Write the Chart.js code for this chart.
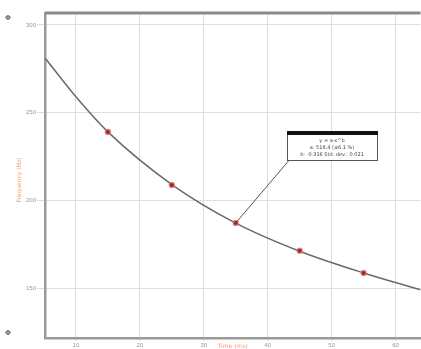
<!DOCTYPE html>
<html>
<head>
<meta charset="utf-8">
<script src="https://cdn.jsdelivr.net/npm/chart.js@4/dist/chart.umd.min.js"></script>
<style>
  html, body { margin: 0; padding: 0; background: #fff; overflow: hidden; }
  #wrap { width: 421px; height: 349px; overflow: hidden; }
</style>
</head>
<body>
<div id="wrap"><canvas id="fitChart" width="426" height="349"></canvas></div>
<script>
// measured points
const sampleX = [15, 25, 35, 45, 55];
const sampleY = [239, 208.8, 187.1, 171.2, 158.6];

// fitted curve
const curveX = [5.2, 10, 15, 25, 35, 45, 55, 63.9];
const curveY = [281, 259, 239, 209, 187, 171, 158.6, 149];

const xTicks = [10, 20, 30, 40, 50, 60];
const yTicks = [150, 200, 250, 300];

const fitLines = ["y = a·x^b", "a: 518.4 (±6.1 %)", "b: -0.316 Std. dev.: 0.021"];

const toXY = (xs, ys) => xs.map((x, i) => ({ x: x, y: ys[i] }));

// frame, axis titles and fit box
const extras = {
  id: "extras",
  afterDraw(chart) {
    const { ctx, chartArea: a, scales } = chart;
    ctx.save();
    // top border
    ctx.strokeStyle = "#8a8a8a";
    ctx.lineWidth = 3;
    ctx.beginPath();
    ctx.moveTo(a.left, a.top);
    ctx.lineTo(a.right, a.top);
    ctx.stroke();

    // corner marks
    ctx.fillStyle = "#777";
    ctx.font = "bold 7px DejaVu Sans";
    ctx.textAlign = "center";
    ctx.textBaseline = "middle";
    ctx.fillText("Φ", 8, 18);
    ctx.fillText("Φ", 8, 333);

    // axis titles
    ctx.fillStyle = "#f0a070";
    ctx.font = "6px DejaVu Sans";
    ctx.fillText("Time (ms)", (a.left + a.right) / 2, 346);
    ctx.save();
    ctx.translate(19, 180);
    ctx.rotate(-Math.PI / 2);
    ctx.fillText("Frequency (Hz)", 0, 0);
    ctx.restore();

    // fit box with leader line
    const px = scales.x.getPixelForValue(sampleX[2]);
    const py = scales.y.getPixelForValue(sampleY[2]);
    const bx = a.left + 242, by = a.top + 118, bw = 90, bh = 29;
    ctx.strokeStyle = "#555";
    ctx.lineWidth = 1;
    ctx.beginPath();
    ctx.moveTo(px, py);
    ctx.lineTo(bx + 4, by + bh - 2);
    ctx.stroke();
    ctx.fillStyle = "#fff";
    ctx.fillRect(bx, by, bw, bh);
    ctx.strokeRect(bx + 0.5, by + 0.5, bw, bh);
    ctx.fillStyle = "#111";
    ctx.fillRect(bx, by, bw + 1, 4);
    ctx.fillStyle = "#444";
    ctx.font = "5px DejaVu Sans";
    fitLines.forEach((t, i) => ctx.fillText(t, bx + bw / 2, by + 10 + i * 7));
    ctx.restore();
  }
};

new Chart(document.getElementById("fitChart"), {
  type: "scatter",
  data: {
    datasets: [
      {
        label: "fit",
        data: toXY(curveX, curveY),
        showLine: true,
        borderColor: "#6a6a6a",
        borderWidth: 1.5,
        pointRadius: 0,
        cubicInterpolationMode: "monotone",
        order: 2
      },
      {
        label: "samples",
        data: toXY(sampleX, sampleY),
        pointRadius: 2.5,
        pointBackgroundColor: "#8e2a2a",
        pointBorderColor: "rgba(235,110,110,0.7)",
        pointBorderWidth: 1.5,
        order: 1
      }
    ]
  },
  options: {
    responsive: false,
    animation: false,
    layout: { padding: { top: 13, right: 0, left: 0, bottom: 0 } },
    plugins: {
      legend: { display: false },
      tooltip: { enabled: false }
    },
    scales: {
      x: {
        type: "linear",
        min: 5.16,
        max: 63.9,
        afterBuildTicks: (s) => { s.ticks = xTicks.map(v => ({ value: v })); },
        afterFit: (s) => { s.height = 11; },
        ticks: { color: "#999", font: { size: 6 }, padding: 1 },
        grid: { color: "#dedede", lineWidth: 1, tickLength: 3 },
        border: { color: "#9a9a9a", width: 2.5 }
      },
      y: {
        type: "linear",
        min: 121.5,
        max: 306.8,
        afterBuildTicks: (s) => { s.ticks = yTicks.map(v => ({ value: v })); },
        afterFit: (s) => { s.width = 45; },
        ticks: { color: "#999", font: { size: 6 }, padding: 1 },
        grid: { color: "#dedede", lineWidth: 1, tickLength: 8 },
        border: { color: "#9a9a9a", width: 2.5 }
      }
    }
  },
  plugins: [extras]
});
</script>
</body>
</html>
